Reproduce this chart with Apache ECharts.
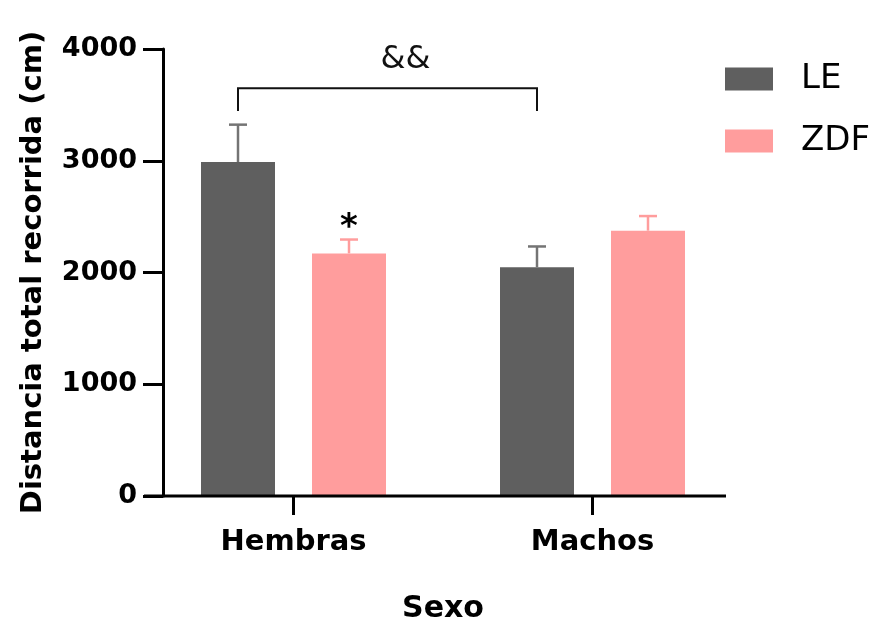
<!DOCTYPE html>
<html>
<head>
<meta charset="utf-8">
<script src="https://cdn.jsdelivr.net/npm/echarts@6/dist/echarts.min.js"></script>
<style>
html,body{margin:0;padding:0;background:#fff;}
#chart{width:873px;height:629px;}
</style>
</head>
<body>
<div id="chart"></div>
<script>
// ---- data ----
const categories = ['Hembras', 'Machos'];
const seriesNames = ['LE', 'ZDF'];
const leMeans = [2989, 2048];
const leSem = [334, 185];
const zdfMeans = [2171, 2374];
const zdfSem = [124, 131];
const yMin = 0, yMax = 4000, yInterval = 1000;
// significance marks
const bracketFrom = 0, bracketTo = 1;        // LE bars of Hembras and Machos
const bracketLegBottom = 3446, bracketTop = 3648;
const bracketLabel = '&&';
const starCategory = 0, starValue = 2453, starLabel = '*';

// ---- style constants ----
const FONT = 'DejaVu Sans';
const LE_COLOR = '#5f5f5f', LE_ERR = '#747474';
const ZDF_COLOR = '#ff9d9d', ZDF_ERR = '#ff9d9d';
const BAR_W = 74, BAR_GAP = 37;
const OFFSET = (BAR_W + BAR_GAP) / 2;

const chart = echarts.init(document.getElementById('chart'), null, {renderer: 'canvas'});

function errRender(sign, color) {
  return function (params, api) {
    const idx = api.value(0);
    const lo = api.coord([idx, api.value(1)]);
    const hi = api.coord([idx, api.value(2)]);
    const x = lo[0] + sign * OFFSET;
    const cap = 9;
    return {
      type: 'group',
      children: [
        {type: 'line', shape: {x1: x, y1: lo[1], x2: x, y2: hi[1]}, style: {stroke: color, lineWidth: 2.5}},
        {type: 'line', shape: {x1: x - cap, y1: hi[1], x2: x + cap, y2: hi[1]}, style: {stroke: color, lineWidth: 2.5}}
      ]
    };
  };
}

const leErrData = categories.map((c, i) => [i, leMeans[i], leMeans[i] + leSem[i]]);
const zdfErrData = categories.map((c, i) => [i, zdfMeans[i], zdfMeans[i] + zdfSem[i]]);

const option = {
  animation: false,
  backgroundColor: '#ffffff',
  grid: {left: 144, top: 49, width: 598, height: 455, containLabel: false},
  legend: {
    orient: 'vertical',
    left: 725, top: 62,
    padding: 0,
    itemWidth: 48, itemHeight: 23, itemGap: 28,
    icon: 'rect',
    data: seriesNames,
    textStyle: {fontFamily: FONT, fontSize: 34, color: '#000', padding: [0, 0, 0, 23]}
  },
  xAxis: {
    type: 'category',
    data: categories,
    boundaryGap: true,
    axisLine: {show: false},
    axisTick: {show: true, alignWithLabel: true, length: 19, lineStyle: {color: '#000', width: 3}},
    axisLabel: {margin: 32, fontFamily: FONT, fontWeight: 'bold', fontSize: 29, color: '#000'},
    name: 'Sexo',
    nameLocation: 'middle',
    nameGap: 98,
    nameTextStyle: {fontFamily: FONT, fontWeight: 'bold', fontSize: 30, color: '#000'}
  },
  yAxis: {
    type: 'value',
    min: yMin, max: yMax, interval: yInterval,
    offset: -19,
    axisLine: {show: true, lineStyle: {color: '#000', width: 3}},
    axisTick: {show: true, length: 20, lineStyle: {color: '#000', width: 3}},
    axisLabel: {margin: 26, fontFamily: FONT, fontWeight: 'bold', fontSize: 27, color: '#000',
                formatter: function (v) { return String(v); }},
    splitLine: {show: false},
    name: 'Distancia total recorrida (cm)',
    nameLocation: 'middle',
    nameRotate: 90,
    nameGap: 115,
    nameTextStyle: {fontFamily: FONT, fontWeight: 'bold', fontSize: 29, color: '#000'}
  },
  series: [
    {name: 'LE', type: 'bar', data: leMeans, barWidth: BAR_W, barGap: (BAR_GAP / BAR_W * 100) + '%',
     itemStyle: {color: LE_COLOR}, z: 2},
    {name: 'ZDF', type: 'bar', data: zdfMeans, barWidth: BAR_W,
     itemStyle: {color: ZDF_COLOR}, z: 2},
    {name: 'LE-err', type: 'custom', data: leErrData, renderItem: errRender(-1, LE_ERR),
     encode: {x: 0, y: [1, 2]}, z: 1},
    {name: 'ZDF-err', type: 'custom', data: zdfErrData, renderItem: errRender(1, ZDF_ERR),
     encode: {x: 0, y: [1, 2]}, z: 1},
    {name: 'bracket', type: 'custom', data: [[bracketFrom, bracketTo, bracketLegBottom, bracketTop]],
     encode: {x: [0, 1], y: [2, 3]},
     renderItem: function (params, api) {
       const a = api.coord([api.value(0), api.value(2)]);
       const b = api.coord([api.value(1), api.value(2)]);
       const t = api.coord([api.value(0), api.value(3)]);
       const x1 = a[0] - OFFSET, x2 = b[0] - OFFSET;
       return {
         type: 'group',
         children: [
           {type: 'polyline', shape: {points: [[x1, a[1]], [x1, t[1]], [x2, t[1]], [x2, b[1]]]},
            style: {stroke: '#111', lineWidth: 2, fill: null}},
           {type: 'text', style: {text: bracketLabel, x: (x1 + x2) / 2 + 18, y: t[1] - 29,
             align: 'center', verticalAlign: 'middle', font: 'normal 32px "DejaVu Sans"', fill: '#111'}}
         ]
       };
     }},
    {name: 'star', type: 'custom', data: [[starCategory, starValue]],
     encode: {x: 0, y: 1},
     renderItem: function (params, api) {
       const p = api.coord([api.value(0), api.value(1)]);
       return {type: 'text', style: {text: starLabel, x: p[0] + OFFSET, y: p[1] + 6,
         align: 'center', verticalAlign: 'middle', font: 'bold 34px "DejaVu Sans"', fill: '#000'}};
     }}
  ]
};
chart.setOption(option);

// x-axis baseline (GraphPad style, starts left of the y axis and ends short of the grid edge)
const y0 = chart.convertToPixel({yAxisIndex: 0}, 0);
chart.setOption({
  graphic: [{type: 'line', shape: {x1: 144, y1: y0, x2: 726, y2: y0}, style: {stroke: '#000', lineWidth: 3}, z: 10}]
});
</script>
</body>
</html>
